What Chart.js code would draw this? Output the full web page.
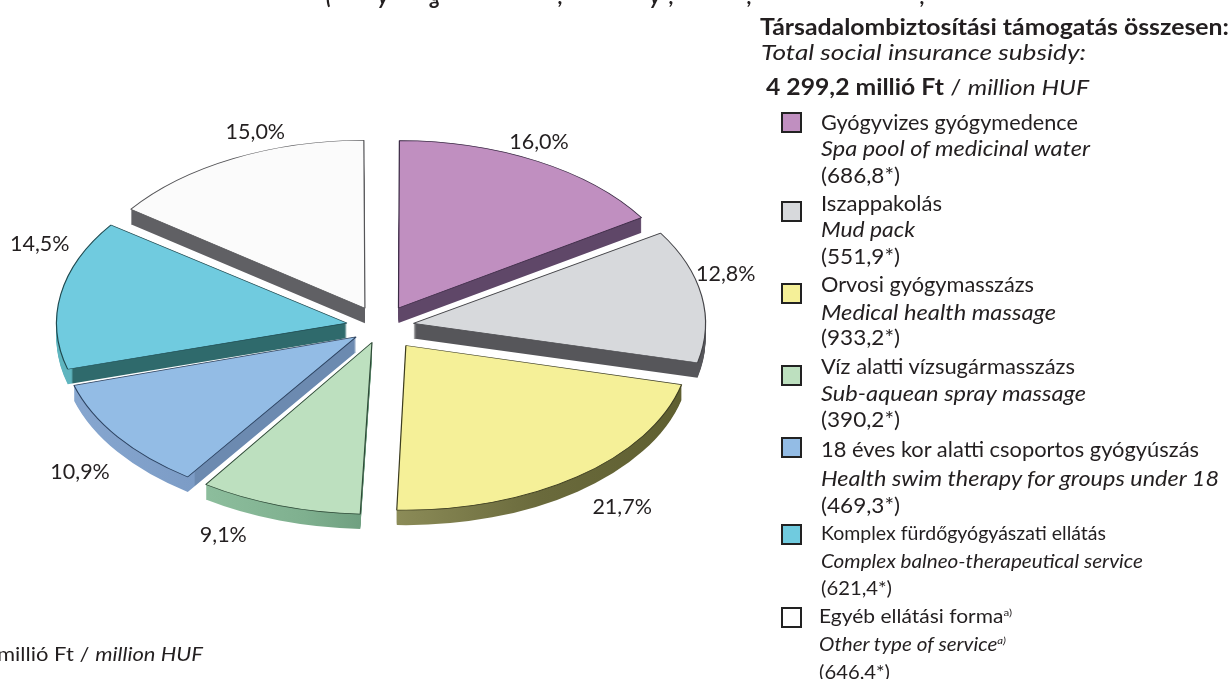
<!DOCTYPE html>
<html>
<head>
<meta charset="utf-8">
<script src="https://cdn.jsdelivr.net/npm/chart.js@4"></script>
<style>
html,body{margin:0;padding:0;background:#fff;width:1232px;height:679px;overflow:hidden}
#wrap{position:relative;width:1232px;height:679px;overflow:hidden;font-family:Lato,sans-serif;color:#231f20}
canvas{position:absolute;left:0;top:0}
.t{position:absolute;white-space:nowrap;transform-origin:0 50%;line-height:1}
.i{font-style:italic}
.b{font-weight:700}
.sw{position:absolute;box-sizing:border-box;width:21px;height:21px;border:2px solid #222}
sup{font-size:55%;line-height:0;vertical-align:baseline;position:relative;top:-.6em}
</style>
</head>
<body>
<div id="wrap"><canvas id="c" width="1232" height="679"></canvas></div>
<script>
const categoriesHu = ['Gyógyvizes gyógymedence','Iszappakolás','Orvosi gyógymasszázs','Víz alatti vízsugármasszázs','18 éves kor alatti csoportos gyógyúszás','Komplex fürdőgyógyászati ellátás','Egyéb ellátási forma'];
const categoriesEn = ['Spa pool of medicinal water','Mud pack','Medical health massage','Sub-aquean spray massage','Health swim therapy for groups under 18','Complex balneo-therapeutical service','Other type of service'];
const values = [686.8,551.9,933.2,390.2,469.3,621.4,646.4];
const valueLabels = ['(686,8*)','(551,9*)','(933,2*)','(390,2*)','(469,3*)','(621,4*)','(646,4*)'];
const percentLabels = ['16,0%','12,8%','21,7%','9,1%','10,9%','14,5%','15,0%'];
const topColors = ['#c08fc0','#d7d9dc','#f5f098','#bde0bf','#93bce5','#70cbdf','#fbfbfb'];
const edgeColors = ['#3a2a44','#444448','#3c3c20','#2f4a38','#2c4260','#1f4a50','#555558'];
// side wall shading: horizontal colour stops [page x, colour] per slice
const sideStops = [
  [[0,'#5f4768'],[1232,'#5f4768']],
  [[0,'#56565a'],[1232,'#56565a']],
  [[395,'#8c8c58'],[540,'#6a6a3c'],[683,'#5f5f30']],
  [[205,'#8cbd9c'],[300,'#7fb08f'],[359,'#6f9f80']],
  [[70,'#86a6cf'],[185,'#7c9cc6'],[186,'#6c8ab0'],[350,'#6c8ab0']],
  [[55,'#5fb5bf'],[64,'#5fb5bf'],[66,'#2f6a6c'],[342,'#2f6a6c']],
  [[0,'#606064'],[1232,'#606064']]
];

const SQUISH = 0.58, RADIUS = 283, EXPLODE = 42, DEPTH = 15;
const total = values.reduce((a,b)=>a+b,0);

// Chart.js shifts a slice by offset/4 * (2 - sin(circumference)), so undo that for an even explosion
function sliceOffset(i){
  const circ = values[i]/total*2*Math.PI;
  const fix = 1 - Math.sin(Math.min(Math.PI,circ));
  return 4*EXPLODE/(1+fix);
}
function squish(ctx,arc,dy){
  ctx.translate(arc.x,arc.y+dy);
  ctx.scale(1,SQUISH);
  ctx.translate(-arc.x,-arc.y);
}
function sideFill(ctx,arc,i){
  const stops = sideStops[i];
  const shift = Math.cos((arc.startAngle+arc.endAngle)/2)*EXPLODE;
  const a = stops[0][0], b = stops[stops.length-1][0];
  const g = ctx.createLinearGradient(a-shift,0,b-shift,0);
  stops.forEach(s=>g.addColorStop((s[0]-a)/(b-a),s[1]));
  return g;
}
const tiltPlugin = {
  id:'tilt',
  beforeDatasetDraw(chart,args){
    const ctx = chart.ctx, arcs = chart.getDatasetMeta(args.index).data;
    for(let d=DEPTH;d>=1;d--){
      arcs.forEach((arc,i)=>{
        ctx.save();
        squish(ctx,arc,d);
        const saved = arc.options;
        arc.options = Object.create(saved,{backgroundColor:{value:sideFill(ctx,arc,i)},borderWidth:{value:0}});
        arc.draw(ctx);
        arc.options = saved;
        ctx.restore();
      });
    }
    ctx.save();
    squish(ctx,arcs[0],0);
  },
  afterDatasetDraw(chart){ chart.ctx.restore(); }
};
// pixel nudge of each label away from its slice's mid-angle point
const labelNudge = [[-14,-3],[-8,-19],[25,15],[-46,12],[-11,24],[11,-47],[37,-10]];
const labelPlugin = {
  id:'pct',
  afterDraw(chart){
    const ctx = chart.ctx, arcs = chart.getDatasetMeta(0).data;
    ctx.save();
    ctx.font = '21.5px Lato, sans-serif';
    ctx.fillStyle = '#231f20';
    ctx.textAlign = 'center';
    ctx.textBaseline = 'middle';
    arcs.forEach((arc,i)=>{
      const m = (arc.startAngle+arc.endAngle)/2, r = (arc.outerRadius+EXPLODE)*1.1;
      ctx.fillText(percentLabels[i], arc.x+Math.cos(m)*r+labelNudge[i][0], arc.y+Math.sin(m)*r*SQUISH+labelNudge[i][1]);
    });
    ctx.restore();
  }
};
new Chart(document.getElementById('c'),{
  type:'pie',
  data:{labels:categoriesHu,datasets:[{
    data:values,
    backgroundColor:topColors,
    borderColor:edgeColors,
    borderWidth:1.2,
    offset:c=>sliceOffset(c.dataIndex),
    clip:false
  }]},
  options:{
    responsive:false,animation:false,events:[],
    radius:RADIUS,
    layout:{padding:{left:0,right:470,top:0,bottom:26}},
    plugins:{legend:{display:false},tooltip:{enabled:false}}
  },
  plugins:[tiltPlugin,labelPlugin]
});

const wrap = document.getElementById('wrap');
function addText(html,x,cy,size,width,cls){
  const e = document.createElement('div');
  e.className = 't '+(cls||'');
  e.innerHTML = html;
  e.style.left = x+'px';
  e.style.fontSize = size+'px';
  wrap.appendChild(e);
  e.style.top = (cy-e.offsetHeight/2)+'px';
  if(width) e.style.transform = 'scaleX('+(width/e.getBoundingClientRect().width)+')';
  return e;
}
addText('Társadalombiztosítási támogatás összesen:',760,27,22,469,'b');
addText('Total social insurance subsidy:',761,52,22,325,'i');
addText('<span class="b">4 299,2 millió Ft</span> / <span class="i">million HUF</span>',766,87,22,323);
addText('millió Ft / <span class="i">million HUF</span>',-3,654,19.5,206);

const swatchTops = [112,201,283,365,437,524,607];
const lineCenters = [[122,148,175],[203,229,256],[284,312,337],[366,393,419],[449,478,505],[533,561,587],[616,644,671]];
const huWidths = [257,121,213,254,378,285,193];
const enWidths = [269,94,235,265,398,322,187];
const valWidths = [79,79,79,79,79,71,71];
const textX = [821,821,821,821,821,821,819];
const textSize = [20.5,20.5,20.5,20.5,20.5,18.5,18.5];
categoriesHu.forEach((name,i)=>{
  const s = document.createElement('div');
  s.className='sw'; s.style.left='781px'; s.style.top=swatchTops[i]+'px'; s.style.background=i===6?'#fff':topColors[i];
  wrap.appendChild(s);
  const sup = i===6?'<sup>a)</sup>':'';
  addText(name+sup,textX[i],lineCenters[i][0],textSize[i],huWidths[i]);
  addText(categoriesEn[i]+sup,textX[i],lineCenters[i][1],textSize[i],enWidths[i],'i');
  addText(valueLabels[i],textX[i],lineCenters[i][2],i<5?20.5:19,valWidths[i]);
});
// the cut-off first line at the very top of the page: only these descenders are visible
const titleFragments = ['(','y','g',',','y',',',',',','];
const titleFragmentX = [326,378,430,558,650,669,747,920];
titleFragments.forEach((g,i)=>{
  const e = document.createElement('div');
  e.className='t b i'; e.textContent=g; e.style.left=titleFragmentX[i]+'px'; e.style.fontSize='21px'; e.style.top='-15px';
  wrap.appendChild(e);
});
</script>
</body>
</html>
